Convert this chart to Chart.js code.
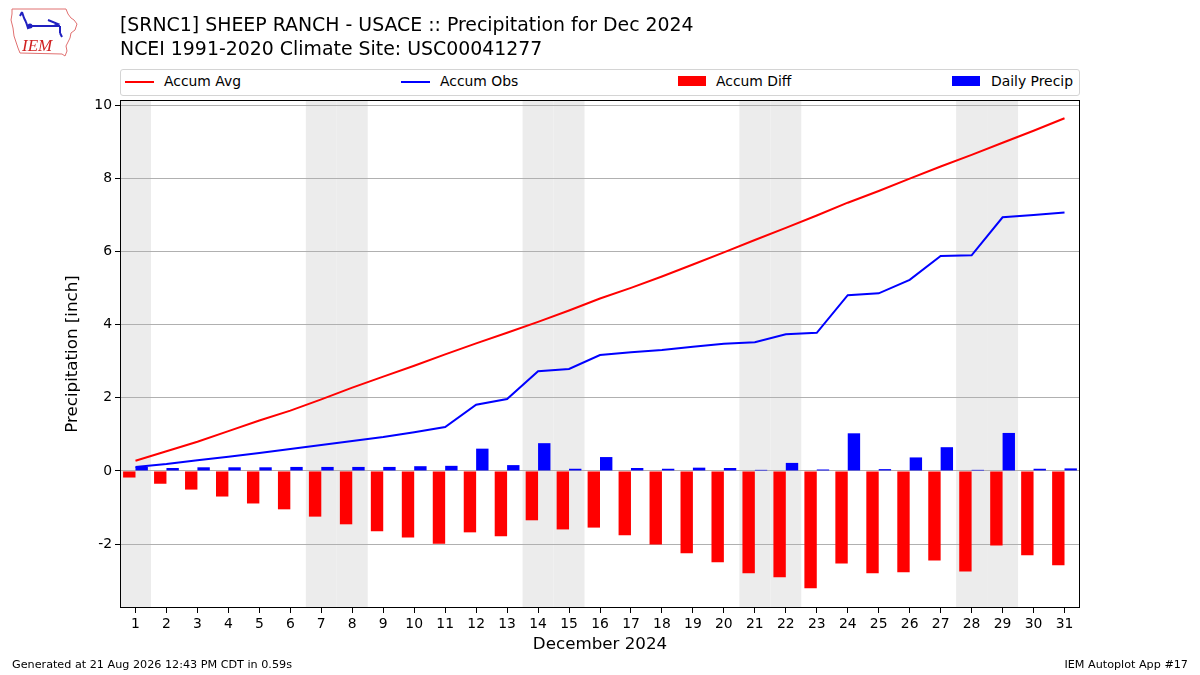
<!DOCTYPE html>
<html>
<head>
<meta charset="utf-8">
<script src="https://cdn.jsdelivr.net/npm/chart.js@4.4.1/dist/chart.umd.min.js"></script>
<style>
  body { margin: 0; background: #fff; font-family: "DejaVu Sans", sans-serif; }
  #wrap { position: relative; width: 1200px; height: 675px; background: #fff; }
  #chart { position: absolute; left: 0; top: 0; }
  .t { position: absolute; white-space: nowrap; color: #000; }
  .title { left: 120px; font-size: 18.9px; line-height: 22px; }
  #legend { position: absolute; left: 120px; top: 69px; width: 958px; height: 25px;
            border: 1px solid #d4d4d4; border-radius: 3px; background: #fff; }
  .lg { position: absolute; top: 3px; font-size: 13.9px; line-height: 17px; }
  .ln { position: absolute; top: 11px; width: 29px; height: 2px; }
  .pt { position: absolute; top: 6px; width: 28px; height: 10px; }
  .foot { font-size: 11.2px; top: 658px; }
</style>
</head>
<body>
<div id="wrap">
  <canvas id="chart" width="1200" height="675"></canvas>

  <svg style="position:absolute;left:8px;top:6px" width="72" height="54" viewBox="0 0 72 54">
    <path d="M4 3 L58 3 L60 8 L63 12 L66 14 L69 18 L67 24 L63 27 L62 32 L60 36 L58 40 L59 45 L57 50 L54 48 L12 47 L10 42 L8 36 L6 30 L5 22 L3 14 L4 8 Z"
          fill="none" stroke="#e07070" stroke-width="1"/>
    <path d="M14 6 L16 12 M14 6 L12 10 M16 12 L18 16 M24 20 L52 20 M52 20 L52 27 M40 14 L50 18 L46 20 M52 27 L54 31 M18 16 L20 22 L24 20"
          fill="none" stroke="#2020c0" stroke-width="2"/>
    <circle cx="22" cy="20" r="2.5" fill="#2020c0"/>
    <text x="14" y="45" font-family="Liberation Serif, serif" font-style="italic" font-size="17" fill="#d02020">IEM</text>
  </svg>

  <div class="t title" style="top:13px">[SRNC1] SHEEP RANCH - USACE :: Precipitation for Dec 2024</div>
  <div class="t title" style="top:37px">NCEI 1991-2020 Climate Site: USC00041277</div>

  <div id="legend">
    <div class="ln" style="left:4px;background:#ff0000"></div>
    <div class="t lg" style="left:43px">Accum Avg</div>
    <div class="ln" style="left:280px;background:#0000ff"></div>
    <div class="t lg" style="left:319px">Accum Obs</div>
    <div class="pt" style="left:557px;background:#ff0000"></div>
    <div class="t lg" style="left:595px">Accum Diff</div>
    <div class="pt" style="left:831px;background:#0000ff"></div>
    <div class="t lg" style="left:870px">Daily Precip</div>
  </div>

  <div class="t foot" style="left:12px">Generated at 21 Aug 2026 12:43 PM CDT in 0.59s</div>
  <div class="t foot" style="right:12px">IEM Autoplot App #17</div>
</div>

<script>
// Days of December 2024
const days = [1, 2, 3, 4, 5, 6, 7, 8, 9, 10, 11, 12, 13, 14, 15, 16,
  17, 18, 19, 20, 21, 22, 23, 24, 25, 26, 27, 28, 29, 30, 31];

// Weekend days get a grey band
const weekendDays = [1, 7, 8, 14, 15, 21, 22, 28, 29];

// Accumulated climatology [inch]
const accumAvg = [0.28, 0.54, 0.80, 1.09, 1.38, 1.65, 1.96, 2.28, 2.58, 2.88,
  3.19, 3.49, 3.78, 4.08, 4.39, 4.72, 5.01, 5.32, 5.65, 5.98, 6.32, 6.65,
  6.99, 7.34, 7.66, 8.00, 8.33, 8.65, 8.98, 9.31, 9.65];

// Accumulated observed [inch]
const accumObs = [0.11, 0.19, 0.29, 0.39, 0.49, 0.60, 0.71, 0.82, 0.93, 1.06,
  1.20, 1.81, 1.97, 2.73, 2.79, 3.17, 3.25, 3.31, 3.40, 3.48, 3.52, 3.74,
  3.78, 4.81, 4.86, 5.23, 5.88, 5.90, 6.94, 7.00, 7.07];

// Observed minus climatology [inch]
const accumDiff = [-0.18, -0.35, -0.51, -0.70, -0.89, -1.05, -1.25, -1.46,
  -1.65, -1.82, -1.99, -1.68, -1.79, -1.35, -1.60, -1.55, -1.76, -2.01,
  -2.25, -2.50, -2.80, -2.91, -3.21, -2.53, -2.80, -2.77, -2.45, -2.75,
  -2.04, -2.31, -2.58];

// Daily observed precip [inch]
const dailyPrecip = [0.11, 0.08, 0.10, 0.10, 0.10, 0.11, 0.11, 0.11, 0.11,
  0.13, 0.14, 0.61, 0.16, 0.76, 0.06, 0.38, 0.08, 0.06, 0.09, 0.08, 0.03,
  0.22, 0.04, 1.03, 0.05, 0.37, 0.65, 0.03, 1.04, 0.06, 0.07];

const yTicks = [-2, 0, 2, 4, 6, 8, 10];

// grey bands behind weekends, plus the full box around the plot
const bands = {
  id: 'bands',
  beforeDraw(chart) {
    const { ctx, chartArea, scales } = chart;
    const half = (scales.x.getPixelForValue(1) - scales.x.getPixelForValue(0)) / 2;
    ctx.save();
    ctx.fillStyle = '#ececec';
    for (const d of weekendDays) {
      const cx = scales.x.getPixelForValue(days.indexOf(d));
      const x0 = Math.max(chartArea.left, cx - half);
      const x1 = Math.min(chartArea.right, cx + half);
      ctx.fillRect(x0, chartArea.top, x1 - x0, chartArea.bottom - chartArea.top);
    }
    ctx.restore();
  },
  afterDraw(chart) {
    const { ctx, chartArea } = chart;
    ctx.save();
    ctx.strokeStyle = '#000';
    ctx.lineWidth = 1;
    ctx.strokeRect(chartArea.left + 0.5, chartArea.top + 0.5,
      chartArea.right - chartArea.left - 1, chartArea.bottom - chartArea.top - 1);
    ctx.restore();
  }
};

const tickFont = { family: 'DejaVu Sans', size: 13.9 };
const labelFont = { family: 'DejaVu Sans', size: 16.7 };

const ctx = document.getElementById('chart').getContext('2d');
const chart = new Chart(ctx, {
  data: {
    labels: days.map(String),
    datasets: [
      { type: 'line', label: 'Accum Avg', data: accumAvg, borderColor: '#ff0000',
        borderWidth: 2, pointRadius: 0, tension: 0, order: 0 },
      { type: 'line', label: 'Accum Obs', data: accumObs, borderColor: '#0000ff',
        borderWidth: 2, pointRadius: 0, tension: 0, order: 0 },
      { type: 'bar', label: 'Accum Diff', data: accumDiff, backgroundColor: '#ff0000',
        categoryPercentage: 0.8, barPercentage: 1.0, order: 1 },
      { type: 'bar', label: 'Daily Precip', data: dailyPrecip, backgroundColor: '#0000ff',
        categoryPercentage: 0.8, barPercentage: 1.0, order: 1 },
    ],
  },
  options: {
    responsive: false,
    animation: false,
    layout: { padding: { left: 63, right: 120, top: 100, bottom: 20 } },
    plugins: { legend: { display: false }, tooltip: { enabled: false } },
    scales: {
      x: {
        type: 'category',
        offset: true,
        grid: { offset: false, drawOnChartArea: false, drawTicks: true, tickLength: 5,
          color: '#000', tickColor: '#000' },
        border: { display: false },
        ticks: { autoSkip: false, maxRotation: 0, padding: 3, color: '#000', font: tickFont },
        title: { display: true, text: 'December 2024', color: '#000', padding: 0,
          font: labelFont },
        afterFit(scale) { scale.height = 47; },
      },
      y: {
        min: -3.75,
        max: 10.15,
        afterBuildTicks(scale) { scale.ticks = yTicks.map(v => ({ value: v })); },
        grid: { color: '#b0b0b0', lineWidth: 1, tickLength: 5, tickColor: '#000' },
        border: { display: false },
        ticks: { padding: 3, color: '#000', font: tickFont },
        title: { display: true, text: 'Precipitation [inch]', color: '#000', padding: 0,
          font: labelFont },
        afterFit(scale) { scale.width = 57; },
      },
    },
  },
  plugins: [bands],
});
</script>
</body>
</html>
